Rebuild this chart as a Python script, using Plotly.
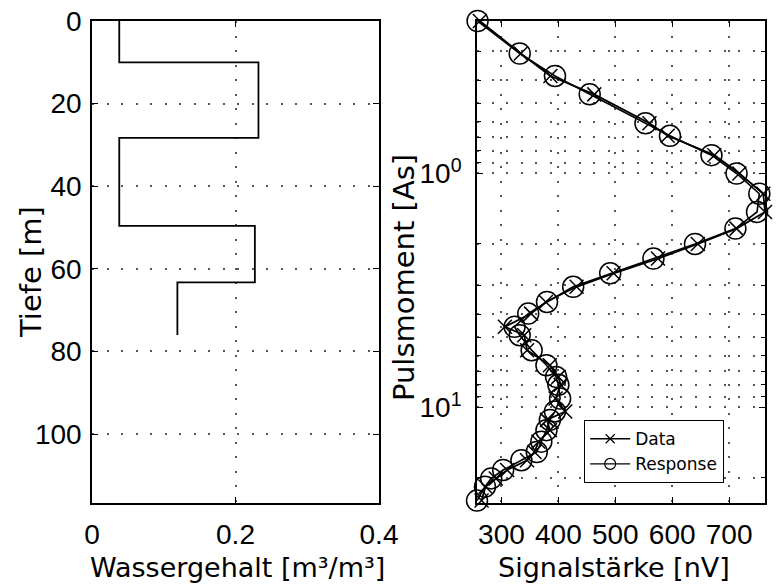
import math
import plotly.graph_objects as go

# ---- left panel: water content model ----
layer_top_depth = [0, 10, 28.3, 49.6, 63.3]
water_content = [0.038, 0.232, 0.038, 0.227, 0.119]
model_bottom_depth = 76

# ---- right panel: sounding curve ----
pulse_moment = [0.223, 0.307, 0.383, 0.459, 0.61, 0.69, 0.835, 1.0, 1.22, 1.46, 1.72,
                2.0, 2.31, 2.67, 3.05, 3.54, 3.97, 4.52, 4.91, 5.69, 6.6, 7.4, 8.0,
                9.16, 10.4, 11.3, 12.5, 14.0, 15.5, 16.8, 18.5, 20.1, 21.8, 25.0]
signal_response = [258, 332, 394, 455, 553, 596, 669, 713, 753, 749, 711, 640, 567,
                   491, 426, 380, 347, 323, 332, 353, 379, 396, 400, 403, 394, 385,
                   379, 370, 362, 335, 303, 282, 271, 257]
signal_data = [262, 334, 386, 463, 560, 592, 674, 718, 760, 763, 713, 645, 575, 497,
               432, 378, 352, 306, 340, 345, 385, 400, 404, 395, 412, 380, 385, 365,
               358, 345, 310, 290, 272, 265]

left_xticks = [0, 0.2, 0.4]
left_xticktext = ["0", "0.2", "0.4"]
left_yticks = [0, 20, 40, 60, 80, 100]
right_xticks = [300, 400, 500, 600, 700]
right_yticks = [1, 10]
right_yticktext = ["10<sup>0</sup>", "10<sup>1</sup>"]

W, H = 778, 585
TICKFONT = dict(family="Liberation Sans, Arial, sans-serif", size=28, color="black")
TITLEFONT = dict(family="DejaVu Sans, sans-serif", size=27, color="black")
GRIDDASH = "2px,12.5px"
GRIDCOLOR = "#555555"

step_x = water_content + [water_content[-1]]
step_y = layer_top_depth + [model_bottom_depth]

data_line = dict(color="black", width=1.8)
resp_line = dict(color="black", width=1.6)

fig = go.Figure()
fig.add_trace(go.Scatter(x=step_x, y=step_y, mode="lines", line_shape="vh",
                         line=dict(color="black", width=1.8), showlegend=False,
                         xaxis="x", yaxis="y"))
fig.add_trace(go.Scatter(x=signal_data, y=pulse_moment, mode="lines+markers", name="Data",
                         line=data_line, showlegend=False,
                         marker=dict(symbol="x-thin-open", size=14,
                                     line=dict(color="black", width=1.5)),
                         cliponaxis=False, xaxis="x2", yaxis="y2"))
fig.add_trace(go.Scatter(x=signal_response, y=pulse_moment, mode="lines+markers", name="Response",
                         line=resp_line, showlegend=False,
                         marker=dict(symbol="circle-open", size=21, color="black",
                                     line=dict(color="black", width=1.5)),
                         cliponaxis=False, xaxis="x2", yaxis="y2"))
# legend entries (smaller symbols, as in the reference legend)
fig.add_trace(go.Scatter(x=[None], y=[None], mode="lines+markers", name="Data",
                         line=dict(color="black", width=1.3),
                         marker=dict(symbol="x-thin-open", size=9,
                                     line=dict(color="black", width=1.2)),
                         xaxis="x2", yaxis="y2"))
fig.add_trace(go.Scatter(x=[None], y=[None], mode="lines+markers", name="Response",
                         line=dict(color="black", width=1.3),
                         marker=dict(symbol="circle-open", size=11, color="black",
                                     line=dict(color="black", width=1.2)),
                         xaxis="x2", yaxis="y2"))

ydom = [1 - 503 / H, 1 - 21 / H]
axis_common = dict(showline=True, linecolor="black", linewidth=1.6, mirror="ticks",
                   ticks="inside", ticklen=6, tickcolor="black", tickwidth=1.3,
                   showgrid=True, gridcolor=GRIDCOLOR, griddash=GRIDDASH, gridwidth=1.5,
                   zeroline=False, tickfont=TICKFONT, automargin=False, tickangle=0)

fig.update_layout(
    width=W, height=H, margin=dict(l=0, r=0, t=0, b=0, autoexpand=False),
    paper_bgcolor="white", plot_bgcolor="white",
    xaxis=dict(domain=[92 / W, 379 / W], range=[0, 0.4], tickmode="array",
               tickvals=left_xticks, ticktext=left_xticktext, anchor="y",
               ticklabelstandoff=6, **axis_common),
    yaxis=dict(domain=ydom, range=[116.7, 0], tickmode="array", tickvals=left_yticks,
               anchor="x", ticklabelstandoff=3, **axis_common),
    xaxis2=dict(domain=[477 / W, 765 / W], range=[257, 763], tickmode="array",
                tickvals=right_xticks, anchor="y2", ticklabelstandoff=6, **axis_common),
    yaxis2=dict(domain=ydom, type="log",
                range=[math.log10(25.6), math.log10(0.223)],
                tickmode="array", tickvals=right_yticks, ticktext=right_yticktext,
                anchor="x2", ticklabelstandoff=8,
                minor=dict(tickvals=[d * 10 ** e for e in (-1, 0, 1) for d in range(2, 10)],
                           ticks="inside", ticklen=4, tickcolor="black",
                           showgrid=True, gridcolor=GRIDCOLOR, griddash=GRIDDASH,
                           gridwidth=1.5),
                **axis_common),
    legend=dict(x=584 / W, y=1 - 420 / H, xanchor="left", yanchor="top",
                bgcolor="white", bordercolor="black", borderwidth=1.2,
                font=dict(family="DejaVu Sans, sans-serif", size=17, color="black"),
                itemwidth=40, tracegroupgap=0),
    annotations=[
        dict(text="Wassergehalt [m³/m³]", x=237 / W, y=1 - 567 / H, xref="paper", yref="paper",
             xanchor="center", yanchor="middle", showarrow=False, font=TITLEFONT),
        dict(text="Signalstärke [nV]", x=614 / W, y=1 - 567 / H, xref="paper", yref="paper",
             xanchor="center", yanchor="middle", showarrow=False, font=TITLEFONT),
        dict(text="Tiefe [m]", x=31 / W, y=1 - 272 / H, xref="paper", yref="paper",
             xanchor="center", yanchor="middle", textangle=-90, showarrow=False,
             font=dict(TITLEFONT, size=29)),
        dict(text="Pulsmoment [As]", x=404 / W, y=1 - 278 / H, xref="paper", yref="paper",
             xanchor="center", yanchor="middle", textangle=-90, showarrow=False,
             font=dict(TITLEFONT, size=29)),
    ],
)

fig.write_html("out.html", config={"displayModeBar": False},
               post_script="document.body.style.margin='0';")
